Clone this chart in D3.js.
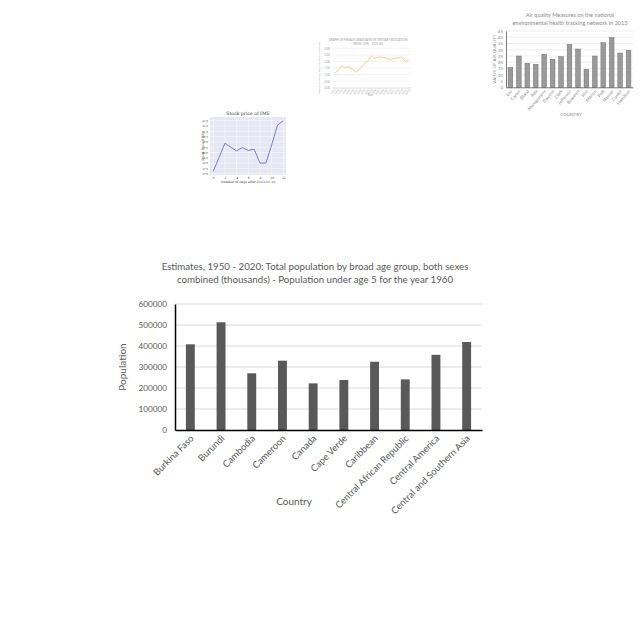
<!DOCTYPE html>
<html><head><meta charset="utf-8">
<script src="https://cdn.jsdelivr.net/npm/d3@7"></script>
<style>body{margin:0;background:#fff}svg{display:block}</style>
</head><body><svg id="c" width="640" height="640"></svg>
<script>
// ---- main chart data ----
const mainTitle = ["Estimates, 1950 - 2020: Total population by broad age group, both sexes",
                   "combined (thousands) - Population under age 5 for the year 1960"];
const mainCountries = ["Burkina Faso","Burundi","Cambodia","Cameroon","Canada","Cape Verde",
  "Caribbean","Central African Republic","Central America","Central and Southern Asia"];
const mainValues = [408000, 513000, 270000, 330000, 222000, 238000, 325000, 241000, 358000, 419000];
const mainTicks = [0,100000,200000,300000,400000,500000,600000];

// ---- air quality thumbnail ----
const aqTitle = ["Air quality Measures on the national","environmental health tracking network in 2013"];
const aqCounties = ["Lee","Carter","Bland","Ada","Montgomery","Daviess","Clark","Jefferson",
  "Beaufort","Iron","Marion","Polk","Nassau","Custer","Hamilton"];
const aqValues = [15.7, 25, 19.2, 18.4, 26.4, 22.4, 24.5, 34.3, 30.6, 14.4, 25, 35.7, 39.7, 27.4, 29.6];
const aqTicks = [0,5,10,15,20,25,30,35,40,45];

// ---- line thumbnail ----
const lnTitle = ["GRAPH OF FEMALE GRADUATES IN TERTIARY EDUCATION","FROM 1995 - 2015 (%)"];
const lnYears = ["1995","1996","1997","1998","1999","2000","2001","2002","2003","2004","2005",
  "2006","2007","2008","2009","2010","2011","2012","2013","2014","2015"];
const lnValues = [1.09,1.27,1.65,1.55,1.58,1.40,1.17,1.47,1.78,2.03,2.44,2.24,2.34,2.31,2.26,2.11,2.24,2.24,2.34,1.98,2.14];
const lnTicks = [0,0.5,1,1.5,2,2.5,3];

// ---- stock thumbnail ----
const stTitle = "Stock price of IMS";
const stDays = [0,1,2,3,4,5,6,7,8,9,10,11,12];
const stPrices = [27.22,28.53,29.88,29.5,29.16,29.47,29.19,29.31,28.0,28.0,29.72,31.59,32.0];
const stXTicks = [0,2,4,6,8,10,12];
const stYTicks = [27,27.5,28,28.5,29,29.5,30,30.5,31,31.5,32];

const svg = d3.select("#c");
svg.append("rect").attr("width",640).attr("height",640).attr("fill","#fff");

// ================= MAIN CHART =================
(function(){
  const g = svg.append("g");
  const font = "Lato, 'Open Sans', sans-serif";
  const grey = "#595959";
  const x = d3.scaleBand().domain(mainCountries).range([175, 482]).paddingInner(0.71).paddingOuter(0.355);
  const y = d3.scaleLinear().domain([0, 600000]).range([430, 304]);

  g.append("g").selectAll("line").data(mainTicks.slice(1)).join("line")
    .attr("x1",175).attr("x2",482).attr("y1",d=>y(d)).attr("y2",d=>y(d))
    .attr("stroke","#d9d9d9").attr("stroke-width",1);

  g.append("g").selectAll("rect").data(mainValues).join("rect")
    .attr("x",(d,i)=>x(mainCountries[i])).attr("width",x.bandwidth())
    .attr("y",d=>y(d)).attr("height",d=>y(0)-y(d)).attr("fill","#595959");

  const ya = g.append("g").attr("transform","translate(175,0)")
    .call(d3.axisLeft(y).tickValues(mainTicks).tickSize(0).tickPadding(8).tickFormat(d3.format("d")));
  ya.select(".domain").attr("stroke","#000").attr("stroke-width",1.5);
  ya.selectAll("text").attr("font-family",font).attr("font-size",8.2).attr("fill",grey);

  const xa = g.append("g").attr("transform","translate(0,430)")
    .call(d3.axisBottom(x).tickSize(0).tickSizeOuter(0));
  xa.select(".domain").attr("stroke","#000").attr("stroke-width",1.5);
  xa.selectAll("text").attr("font-family",font).attr("font-size",9.4).attr("fill",grey)
    .attr("text-anchor","end").attr("dy",0).attr("y",0)
    .attr("transform","translate(4,9) rotate(-45)");

  const tt = g.append("text").attr("font-family",font).attr("font-size",9.7).attr("fill",grey)
    .attr("text-anchor","middle");
  tt.selectAll("tspan").data(mainTitle).join("tspan").attr("x",315).attr("y",(d,i)=>269.5+i*13.8).text(d=>d);

  g.append("text").attr("font-family",font).attr("font-size",10).attr("fill",grey)
    .attr("text-anchor","middle").attr("transform","translate(126,367) rotate(-90)").text("Population");
  g.append("text").attr("font-family",font).attr("font-size",10).attr("fill",grey)
    .attr("text-anchor","middle").attr("x",294).attr("y",505).text("Country");
})();

// ================= AIR QUALITY =================
(function(){
  const g = svg.append("g");
  const font = "Lato, sans-serif";
  const c = "#8a8a8a";
  const x = d3.scaleBand().domain(aqCounties).range([506, 633]).paddingInner(0.45).paddingOuter(0.25);
  const y = d3.scaleLinear().domain([0,45]).range([87.3, 31]);
  g.append("g").selectAll("line").data(aqTicks.slice(1)).join("line")
    .attr("x1",506).attr("x2",633).attr("y1",d=>y(d)).attr("y2",d=>y(d)).attr("stroke","#e3e3e3").attr("stroke-width",0.6);
  g.append("g").selectAll("rect").data(aqValues).join("rect")
    .attr("x",(d,i)=>x(aqCounties[i])).attr("width",x.bandwidth())
    .attr("y",d=>y(d)).attr("height",d=>y(0)-y(d)).attr("fill","#9a9a9a").attr("stroke","#6e6e6e").attr("stroke-width",0.5);
  const ya = g.append("g").attr("transform","translate(506,0)")
    .call(d3.axisLeft(y).tickValues(aqTicks).tickSize(0).tickPadding(3));
  ya.select(".domain").attr("stroke","#555").attr("stroke-width",0.8);
  ya.selectAll("text").attr("font-family",font).attr("font-size",4.5).attr("fill",c);
  const xa = g.append("g").attr("transform","translate(0,87.3)")
    .call(d3.axisBottom(x).tickSize(0).tickSizeOuter(0));
  xa.select(".domain").attr("stroke","#555").attr("stroke-width",0.8);
  xa.selectAll("text").attr("font-family",font).attr("font-size",4.5).attr("fill",c)
    .attr("text-anchor","end").attr("dy",0).attr("y",0).attr("transform","translate(2,4) rotate(-50)");
  const tt = g.append("text").attr("font-family",font).attr("font-size",5.6).attr("fill",c).attr("text-anchor","middle");
  tt.selectAll("tspan").data(aqTitle).join("tspan").attr("x",570).attr("y",(d,i)=>17+i*7.5).text(d=>d);
  g.append("text").attr("font-family",font).attr("font-size",4.5).attr("fill",c).attr("text-anchor","middle")
    .attr("transform","translate(496,59) rotate(-90)").text("VALUE OF AIR QUALITY");
  g.append("text").attr("font-family",font).attr("font-size",4.5).attr("fill",c).attr("text-anchor","middle")
    .attr("x",571).attr("y",116).text("COUNTRY");
})();

// ================= LINE THUMB =================
(function(){
  const g = svg.append("g");
  const font = "Lato, sans-serif";
  const c = "#9a9a9a";
  const x = d3.scalePoint().domain(lnYears).range([333, 410]).padding(0.3);
  const y = d3.scaleLinear().domain([0,3]).range([87.7, 48.3]);
  g.append("g").selectAll("line").data(lnTicks).join("line")
    .attr("x1",332).attr("x2",411).attr("y1",d=>y(d)).attr("y2",d=>y(d)).attr("stroke","#e6e6e6").attr("stroke-width",0.5);
  const ya = g.append("g").attr("transform","translate(332,0)")
    .call(d3.axisLeft(y).tickValues(lnTicks).tickSize(0).tickPadding(2).tickFormat(d3.format(".2f")));
  ya.select(".domain").remove();
  ya.selectAll("text").attr("font-family",font).attr("font-size",2.8).attr("fill",c);
  const xa = g.append("g").attr("transform","translate(0,87.7)")
    .call(d3.axisBottom(x).tickSize(0));
  xa.select(".domain").attr("stroke","#ccc").attr("stroke-width",0.5);
  xa.selectAll("text").attr("font-family",font).attr("font-size",2.6).attr("fill",c)
    .attr("text-anchor","end").attr("dy",0).attr("y",0).attr("transform","translate(1,2.5) rotate(-50)");
  g.append("path").datum(lnValues)
    .attr("d", d3.line().x((d,i)=>x(lnYears[i])).y(d=>y(d)))
    .attr("fill","none").attr("stroke","#f2c26a").attr("stroke-width",0.8);
  const tt = g.append("text").attr("font-family",font).attr("font-size",2.9).attr("fill",c).attr("text-anchor","middle");
  tt.selectAll("tspan").data(lnTitle).join("tspan").attr("x",368).attr("y",(d,i)=>41+i*3.8).text(d=>d);
  g.append("text").attr("font-family",font).attr("font-size",2.6).attr("fill",c).attr("text-anchor","middle")
    .attr("transform","translate(320,68) rotate(-90)").text("PERCENTAGE OF FEMALE GRADUATES (%)");
  g.append("text").attr("font-family",font).attr("font-size",2.8).attr("fill",c).attr("text-anchor","middle")
    .attr("x",370).attr("y",96).text("Year");
})();

// ================= STOCK THUMB =================
(function(){
  const g = svg.append("g");
  const font = "'DejaVu Serif', serif";
  const c = "#333";
  const x = d3.scaleLinear().domain([-0.55, 12.45]).range([210, 286]);
  const y = d3.scaleLinear().domain([26.88, 32.35]).range([175, 117]);
  g.append("rect").attr("x",210).attr("y",117).attr("width",76).attr("height",58).attr("fill","#e6e6f4");
  g.append("g").selectAll("line").data(stXTicks).join("line")
    .attr("x1",d=>x(d)).attr("x2",d=>x(d)).attr("y1",117).attr("y2",175).attr("stroke","#fff").attr("stroke-width",0.5);
  g.append("g").selectAll("line").data(stYTicks).join("line")
    .attr("y1",d=>y(d)).attr("y2",d=>y(d)).attr("x1",210).attr("x2",286).attr("stroke","#fff").attr("stroke-width",0.5);
  const ya = g.append("g").attr("transform","translate(210,0)")
    .call(d3.axisLeft(y).tickValues(stYTicks).tickSize(0).tickPadding(2).tickFormat(d3.format(".1f")));
  ya.select(".domain").remove();
  ya.selectAll("text").attr("font-family",font).attr("font-size",2.6).attr("fill",c);
  const xa = g.append("g").attr("transform","translate(0,175)")
    .call(d3.axisBottom(x).tickValues(stXTicks).tickSize(0).tickPadding(2));
  xa.select(".domain").remove();
  xa.selectAll("text").attr("font-family",font).attr("font-size",3).attr("fill",c);
  g.append("path").datum(stPrices)
    .attr("d", d3.line().x((d,i)=>x(stDays[i])).y(d=>y(d)))
    .attr("fill","none").attr("stroke","#5a63c2").attr("stroke-width",0.8);
  g.append("text").attr("font-family",font).attr("font-size",4.6).attr("fill",c).attr("text-anchor","middle")
    .attr("x",248).attr("y",115).text(stTitle);
  g.append("text").attr("font-family",font).attr("font-size",3.2).attr("fill",c).attr("text-anchor","middle")
    .attr("x",248).attr("y",183).text("Number of Days after 2013-01-10");
  g.append("text").attr("font-family",font).attr("font-size",3.2).attr("fill",c).attr("text-anchor","middle")
    .attr("transform","translate(204,146) rotate(-90)").text("Stock Price (USD)");
})();
</script></body></html>
